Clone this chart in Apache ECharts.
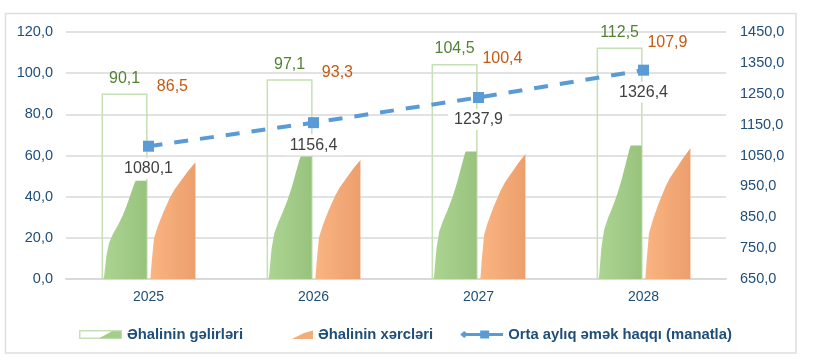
<!DOCTYPE html>
<html>
<head>
<meta charset="utf-8">
<script src="https://cdn.jsdelivr.net/npm/echarts@6/dist/echarts.min.js"></script>
<style>html,body{margin:0;padding:0;background:#fff;}#c{width:836px;height:361px;}</style>
</head>
<body>
<div id="c"></div>
<script>
// ---- data ----
var categories = ['2025', '2026', '2027', '2028'];
var incomes = [90.1, 97.1, 104.5, 112.5];          // Əhalinin gəlirləri
var expenses = [86.5, 93.3, 100.4, 107.9];         // Əhalinin xərcləri
var wages = [1080.1, 1156.4, 1237.9, 1326.4];      // Orta aylıq əmək haqqı
var incomeFillTops = [47.7, 59.5, 61.9, 64.8];     // decorative fill heights inside bars
var expenseFillTops = [56.7, 57.8, 60.7, 63.5];
var leftAxis = {min: 0, max: 120, interval: 20};
var rightAxis = {min: 650, max: 1450, interval: 100};
var names = ['Əhalinin gəlirləri', 'Əhalinin xərcləri', 'Orta aylıq əmək haqqı (manatla)'];

function fmt(v) { return Number(v).toFixed(1).replace('.', ','); }
function svgIcon(s) { return 'image://data:image/svg+xml;charset=utf-8,' + encodeURIComponent(s); }

var greenGrad = new echarts.graphic.LinearGradient(0, 0, 1, 0, [
  {offset: 0, color: '#acd592'}, {offset: 1, color: '#98c37d'}]);
var orangeGrad = new echarts.graphic.LinearGradient(0, 0, 1, 0, [
  {offset: 0, color: '#fab582'}, {offset: 1, color: '#ec9f6d'}]);

var greenPath = 'path://M0,100 L3,100 L6,88 L9,76 L15,63 L24,54 L34,46 L45,36 L55,25 L65,12 L72,3 L75,0 L100,0 L100,100 Z';
var orangePath = 'path://M0,100 L2,100 L5,85 L10,65 L18,55 L30,43 L45,30 L55,23 L70,15 L85,7 L100,0 L100,100 Z';

var iconGreen = svgIcon("<svg xmlns='http://www.w3.org/2000/svg' width='43' height='9'><rect x='0.75' y='0.75' width='41.5' height='7.5' fill='white' stroke='#c5e0b4' stroke-width='1.5'/><path d='M20,8.25 L33,1.2 L42.2,1.2 L42.2,8.25 Z' fill='#a3cd88'/></svg>");
var iconOrange = svgIcon("<svg xmlns='http://www.w3.org/2000/svg' width='43' height='9'><path d='M22,9 L34,3 L43,0.5 L43,9 Z' fill='#f4ac7a'/></svg>");
var iconLine = svgIcon("<svg xmlns='http://www.w3.org/2000/svg' width='43' height='9'><line x1='3' y1='4.5' x2='43' y2='4.5' stroke='#5b9bd5' stroke-width='3'/><path d='M0,4.5 L4,1 L8,4.5 L4,8 Z' fill='#5b9bd5'/><rect x='20' y='0.5' width='9' height='8' fill='#5b9bd5'/></svg>");

var chart = echarts.init(document.getElementById('c'), null, {renderer: 'canvas'});
chart.setOption({
  animation: false,
  backgroundColor: '#fff',
  textStyle: {fontFamily: 'Liberation Sans, Arial, sans-serif'},
  graphic: [{
    type: 'rect', silent: true, z: -10,
    shape: {x: 5.5, y: 13.5, width: 790.5, height: 339.5},
    style: {fill: 'none', stroke: '#dedede', lineWidth: 1.5}
  }],
  grid: {left: 66, right: 110, top: 32, bottom: 82},
  legend: {
    left: 74, top: 322,
    itemWidth: 43, itemHeight: 9, itemGap: 27,
    textStyle: {color: '#1f4e79', fontSize: 14.8, fontWeight: 'bold'},
    data: [
      {name: names[0], icon: iconGreen},
      {name: names[1], icon: iconOrange},
      {name: names[2], icon: iconLine}
    ]
  },
  xAxis: {
    type: 'category', data: categories,
    axisLine: {lineStyle: {color: '#d9d9d9', width: 2}},
    axisTick: {show: false},
    axisLabel: {color: '#1f4e79', fontSize: 14, margin: 11}
  },
  yAxis: [{
    type: 'value', min: leftAxis.min, max: leftAxis.max, interval: leftAxis.interval,
    axisLine: {show: false}, axisTick: {show: false},
    splitLine: {lineStyle: {color: '#d9d9d9', width: 1.5}},
    axisLabel: {color: '#1f4e79', fontSize: 14.5, margin: 13, formatter: fmt}
  }, {
    type: 'value', min: rightAxis.min, max: rightAxis.max, interval: rightAxis.interval,
    axisLine: {show: false}, axisTick: {show: false}, splitLine: {show: false},
    axisLabel: {color: '#1f4e79', fontSize: 14.5, margin: 14, formatter: fmt}
  }],
  series: [{
    name: names[0], type: 'bar', yAxisIndex: 0, data: incomes,
    barWidth: 46, barGap: '4%', z: 2,
    itemStyle: {color: 'rgba(255,255,255,0)', borderColor: '#c5e0b4', borderWidth: 1.5},
    label: {show: true, position: 'top', distance: 7, color: '#548235', fontSize: 16, formatter: function (p) { return fmt(p.value); }}
  }, {
    name: names[1], type: 'bar', yAxisIndex: 0, data: expenses,
    barWidth: 46, barGap: '4%', z: 2,
    itemStyle: {color: 'rgba(255,255,255,0)'},
    label: {show: true, position: 'top', distance: 6, color: '#c55a11', fontSize: 16, formatter: function (p) { return fmt(p.value); }}
  }, {
    name: names[0], type: 'pictorialBar', yAxisIndex: 0, data: incomeFillTops,
    barWidth: 46, barGap: '4%', z: 3,
    symbol: greenPath, symbolSize: ['96%', '100%'], symbolPosition: 'start', symbolRepeat: false,
    itemStyle: {color: greenGrad}
  }, {
    name: names[1], type: 'pictorialBar', yAxisIndex: 0, data: expenseFillTops,
    barWidth: 46, barGap: '4%', z: 3,
    symbol: orangePath, symbolSize: ['100%', '100%'], symbolPosition: 'start', symbolRepeat: false,
    itemStyle: {color: orangeGrad}
  }, {
    name: names[2], type: 'line', yAxisIndex: 1, data: wages, z: 5,
    symbol: 'rect', symbolSize: 11,
    lineStyle: {color: '#5b9bd5', width: 4, type: [14, 12]},
    itemStyle: {color: '#5b9bd5'},
    label: {show: true, position: 'bottom', distance: 6, color: '#404040', fontSize: 16,
      backgroundColor: '#fff', padding: [3, 6, 2, 6], formatter: function (p) { return fmt(p.value); }}
  }]
});
</script>
</body>
</html>
